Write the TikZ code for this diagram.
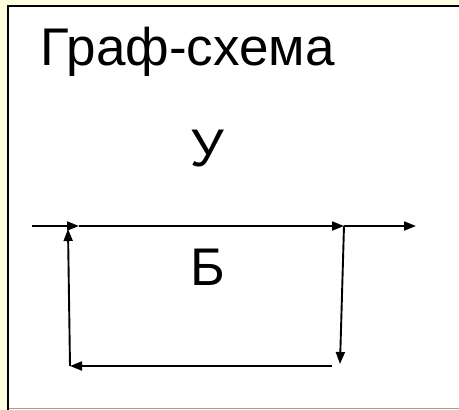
\documentclass[tikz,border=0pt]{standalone}
\usepackage{fontspec}
\setmainfont{Liberation Sans}
\usetikzlibrary{arrows.meta}
\definecolor{paleyellow}{HTML}{FFFFE0}
\definecolor{framegray}{HTML}{A0A0A0}
\begin{document}
\begin{tikzpicture}[x=1pt,y=-1pt,
  lbl/.style={font=\fontsize{53}{63}\selectfont, inner sep=0pt, outer sep=0pt},
  conn/.style={line width=1.9pt, -{Triangle[length=12pt,width=9pt]}},
  plain/.style={line width=1.9pt}]
\useasboundingbox (0,0) rectangle (459,410);
\fill[paleyellow] (0,0) rectangle (459,410);
\fill[white] (8,6) rectangle (459,408);
\draw[framegray, line width=1.5pt] (8,408.5) -- (459,408.5);
\draw[black, line width=2.5pt] (8,410) -- (8,6) -- (459,6);
\node[lbl, anchor=base west] (title) at (41,65) {Граф-схема};
\node[lbl, anchor=base] (U) at (207,166) {У};
\node[lbl, anchor=base] (B) at (208,285) {Б};
\coordinate (in) at (32,226);
\coordinate (j1) at (79,226);
\coordinate (j2) at (344,226);
\coordinate (out) at (416,226);
\coordinate (lt) at (68,229);
\coordinate (lb) at (70,366);
\coordinate (rb) at (340,364);
\coordinate (bs) at (332,366);
\draw[conn] (in) -- (j1);
\draw[conn] (j1) -- (j2);
\draw[conn] (j2) -- (out);
\draw[conn] (j2) -- (rb);
\draw[conn] (bs) -- (lb);
\draw[conn] (lb) -- (lt);
\end{tikzpicture}
\end{document}
